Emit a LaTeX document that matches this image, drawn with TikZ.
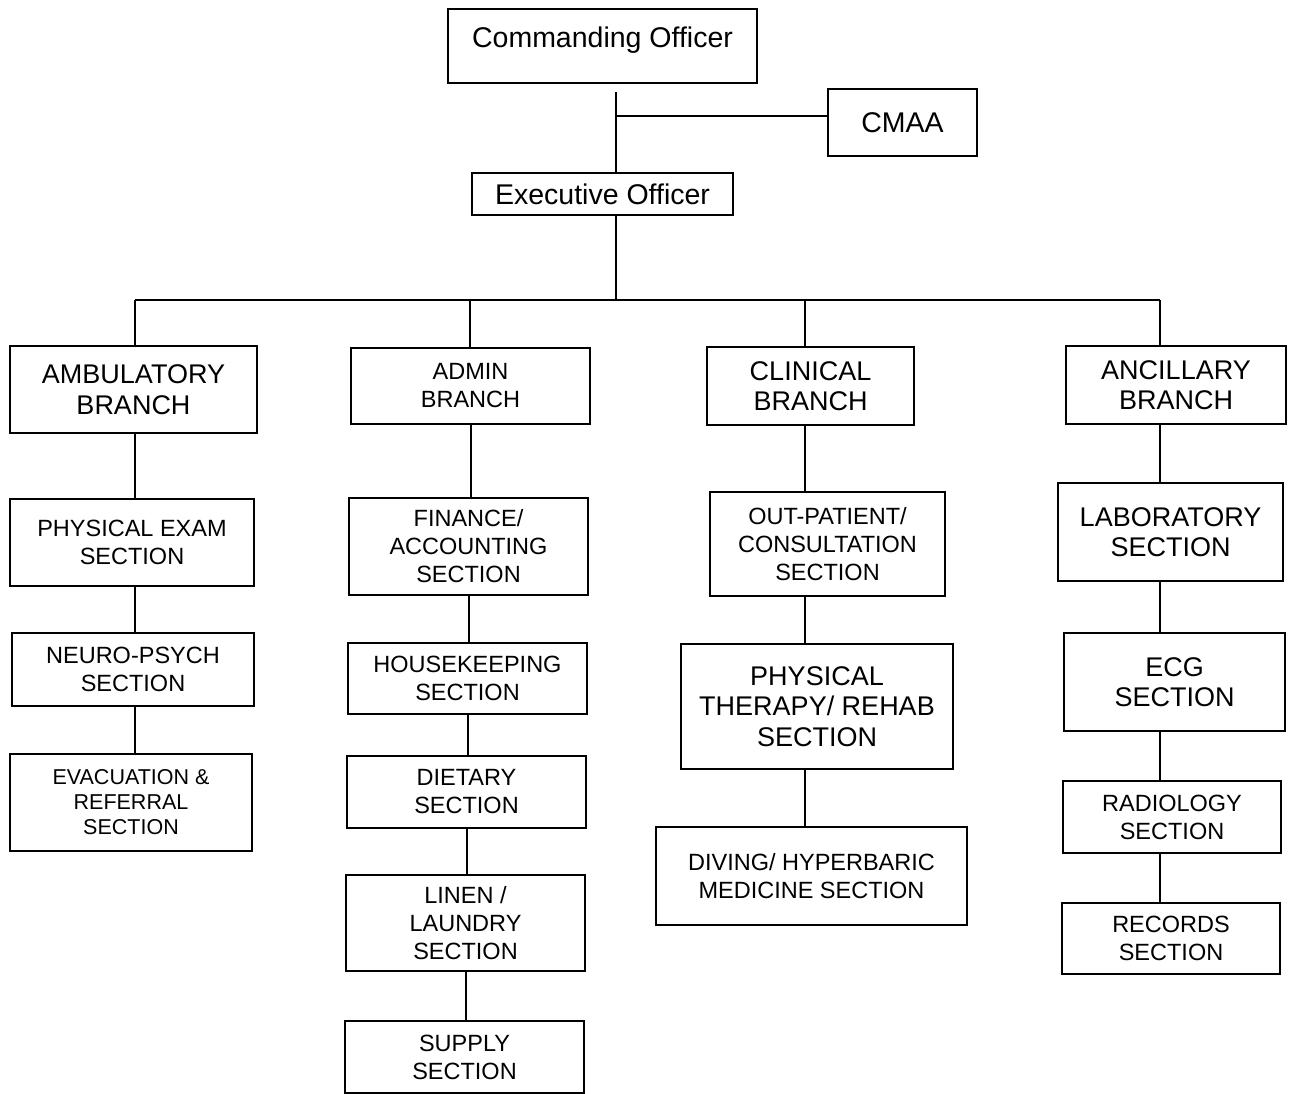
\documentclass[tikz,border=0pt]{standalone}
\usepackage{fontspec}
\setmainfont{Liberation Sans}

\tikzset{
  unit/.style={draw, line width=1pt, align=center, inner sep=0pt, anchor=north},
  headbox/.style={unit, font=\fontsize{14.25}{17}\selectfont},
  branchbox/.style={unit, font=\fontsize{13.5}{15.25}\selectfont},
  secbox/.style={unit, font=\fontsize{11.75}{14}\selectfont},
  smallbox/.style={unit, font=\fontsize{10.75}{12.5}\selectfont},
  link/.style={line width=1pt},
}

\begin{document}
\begin{tikzpicture}[x=0.5pt, y=-0.5pt]

  \fill[white] (0,0) rectangle (1293,1093);
  \useasboundingbox (0,0) rectangle (1293,1093);

  % command
  \node[headbox, minimum width=154.5pt, minimum height=37pt, text depth=9pt] (co) at (602.5,8) {Commanding Officer};
  \node[headbox, minimum width=74.5pt, minimum height=33.5pt] (cmaa) at (902.5,88) {CMAA};
  \node[headbox, minimum width=130.5pt, minimum height=21pt] (xo) at (602.5,172) {Executive Officer};

  % branches
  \node[branchbox, minimum width=123.5pt, minimum height=43.5pt] (amb) at (133.5,345) {AMBULATORY\\BRANCH};
  \node[secbox, minimum width=119.5pt, minimum height=38pt] (adm) at (470.5,347) {ADMIN\\BRANCH};
  \node[branchbox, minimum width=103.5pt, minimum height=39pt] (cli) at (810.5,346) {CLINICAL\\BRANCH};
  \node[branchbox, minimum width=110pt, minimum height=39pt] (anc) at (1176,345) {ANCILLARY\\BRANCH};

  % ambulatory sections
  \node[secbox, minimum width=122pt, minimum height=43.5pt] (pe) at (132,498) {PHYSICAL EXAM\\SECTION};
  \node[secbox, minimum width=121pt, minimum height=36.5pt] (np) at (133,632) {NEURO-PSYCH\\SECTION};
  \node[smallbox, minimum width=121pt, minimum height=48.5pt] (evac) at (131,753) {EVACUATION \&\\REFERRAL\\SECTION};

  % admin sections
  \node[secbox, minimum width=119.5pt, minimum height=48.5pt] (fin) at (468.5,497) {FINANCE/\\ACCOUNTING\\SECTION};
  \node[secbox, minimum width=119.5pt, minimum height=35.5pt] (hk) at (467.5,642) {HOUSEKEEPING\\SECTION};
  \node[secbox, minimum width=119.5pt, minimum height=36pt] (diet) at (466.5,755) {DIETARY\\SECTION};
  \node[secbox, minimum width=119.5pt, minimum height=48pt] (lin) at (465.5,874) {LINEN /\\LAUNDRY\\SECTION};
  \node[secbox, minimum width=119.5pt, minimum height=36pt] (sup) at (464.5,1020) {SUPPLY\\SECTION};

  % clinical sections
  \node[secbox, minimum width=117.5pt, minimum height=52pt] (op) at (827.5,491) {OUT-PATIENT/\\CONSULTATION\\SECTION};
  \node[branchbox, minimum width=136pt, minimum height=62.5pt] (pt) at (817,643) {PHYSICAL\\THERAPY/ REHAB\\SECTION};
  \node[secbox, minimum width=155.5pt, minimum height=49pt] (div) at (811.5,826) {DIVING/ HYPERBARIC\\MEDICINE SECTION};

  % ancillary sections
  \node[branchbox, minimum width=112.5pt, minimum height=49pt] (lab) at (1170.5,482) {LABORATORY\\SECTION};
  \node[branchbox, minimum width=110.5pt, minimum height=49pt] (ecg) at (1174.5,632) {ECG\\SECTION};
  \node[secbox, minimum width=109pt, minimum height=36pt] (rad) at (1172,780) {RADIOLOGY\\SECTION};
  \node[secbox, minimum width=109pt, minimum height=35.5pt] (rec) at (1171,902) {RECORDS\\SECTION};

  % bus
  \coordinate (bus) at (615.5,300);
  \coordinate (ambB) at (135,300);
  \coordinate (admB) at (470,300);
  \coordinate (cliB) at (805,300);
  \coordinate (ancB) at (1160,300);

  \draw[link, shorten <=4pt] ([xshift=6.5pt]co.south) -- ([xshift=6.5pt]xo.north);
  \draw[link] ([yshift=3.5pt]cmaa.west) -- ([yshift=3.5pt]cmaa.west -| bus);
  \draw[link] ([xshift=6.5pt]xo.south) -- (bus);
  \draw[link] (ambB) -- (ancB);

  \foreach \b/\n in {ambB/amb, admB/adm, cliB/cli, ancB/anc}
    \draw[link] (\b) -- (\b |- \n.north);

  \foreach \a/\c in {amb/pe, pe/np, np/evac}
    \draw[link] (\a.south -| ambB) -- (\c.north -| ambB);
  \foreach \a/\c in {adm/fin, fin/hk, hk/diet, diet/lin, lin/sup}
    \draw[link] (\a.south) -- (\a.south |- \c.north);
  \foreach \a/\c in {cli/op, op/pt, pt/div}
    \draw[link] (\a.south -| cliB) -- (\c.north -| cliB);
  \foreach \a/\c in {anc/lab, lab/ecg, ecg/rad, rad/rec}
    \draw[link] (\a.south -| ancB) -- (\c.north -| ancB);

\end{tikzpicture}
\end{document}
